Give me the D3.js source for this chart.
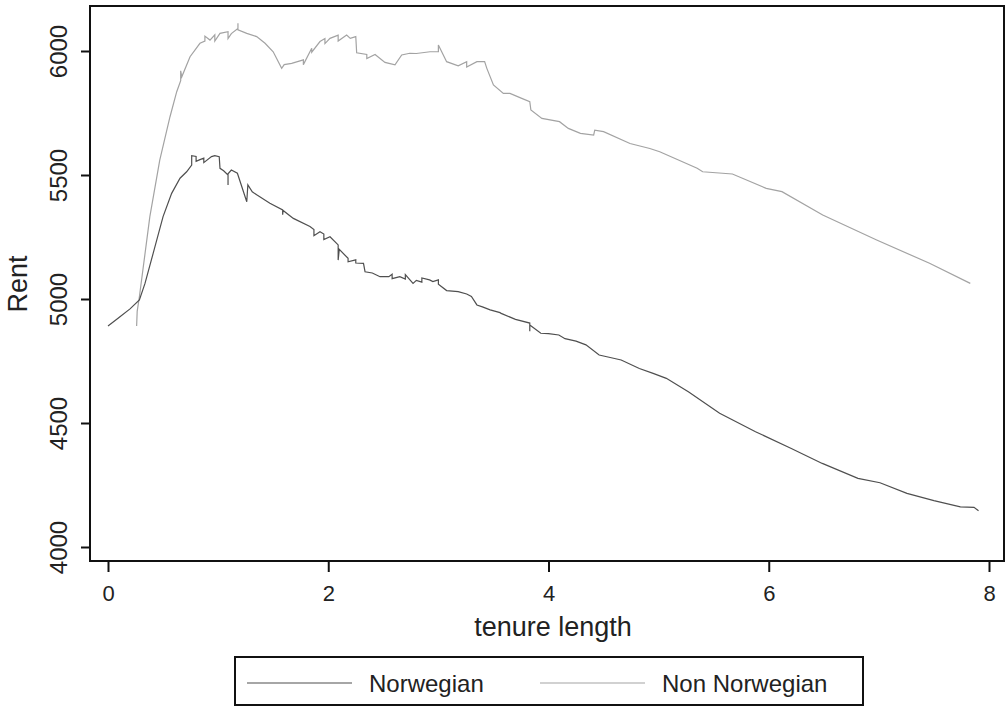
<!DOCTYPE html>
<html>
<head>
<meta charset="utf-8">
<script src="https://cdn.jsdelivr.net/npm/d3@7"></script>
<style>
  body { margin: 0; background: #fff; }
  text { font-family: "Liberation Sans", Arial, sans-serif; fill: #222; }
</style>
</head>
<body>
<svg id="chart" width="1007" height="707"></svg>
<script>
// series
let norTenure = [0.00,0.10,0.20,0.285,0.336,0.41,0.50,0.578,0.654,0.714,0.76,0.76,0.80,0.80,0.835,0.87,0.87,0.94,0.97,1.01,1.017,1.05,1.09,1.09,1.09,1.12,1.175,1.26,1.27,1.31,1.35,1.47,1.586,1.586,1.59,1.683,1.834,1.87,1.87,1.925,1.96,1.96,2.016,2.09,2.09,2.10,2.18,2.18,2.25,2.25,2.32,2.334,2.40,2.47,2.55,2.58,2.58,2.65,2.70,2.70,2.77,2.80,2.85,2.85,2.92,2.95,3.0,3.0,3.075,3.18,3.257,3.30,3.35,3.40,3.47,3.56,3.57,3.70,3.83,3.83,3.83,3.93,4.00,4.094,4.15,4.25,4.34,4.46,4.55,4.66,4.825,4.95,5.07,5.27,5.554,5.88,6.2,6.486,6.81,7.01,7.255,7.5,7.74,7.864,7.905]
let norRent   = [4891,4925,4960,4996,5063,5184,5332,5426,5487,5513,5540,5578,5575,5555,5562,5568,5550,5574,5578,5574,5527,5517,5500,5460,5505,5520,5507,5392,5460,5432,5420,5386,5359,5340,5357,5325,5292,5280,5255,5271,5262,5240,5251,5218,5157,5200,5164,5150,5158,5145,5144,5110,5105,5090,5090,5100,5082,5090,5080,5098,5063,5075,5068,5085,5077,5070,5077,5060,5034,5030,5020,5010,4976,4968,4956,4945,4942,4918,4903,4870,4895,4862,4860,4855,4840,4830,4815,4774,4765,4754,4720,4700,4680,4626,4539,4465,4398,4337,4277,4259,4216,4187,4162,4160,4146]

let nonTenure = [0.26,0.265,0.285,0.38,0.47,0.563,0.624,0.66,0.66,0.67,0.745,0.835,0.88,0.88,0.926,0.97,0.97,1.017,1.09,1.09,1.12,1.18,1.18,1.18,1.26,1.35,1.426,1.5,1.577,1.60,1.668,1.774,1.774,1.85,1.85,1.925,1.97,1.97,2.016,2.09,2.09,2.167,2.20,2.25,2.258,2.35,2.35,2.425,2.515,2.606,2.667,2.74,2.80,2.924,3.0,3.0,3.075,3.18,3.257,3.257,3.35,3.42,3.44,3.5,3.59,3.65,3.757,3.83,3.84,3.94,4.1,4.18,4.29,4.41,4.42,4.5,4.74,4.92,5.01,5.35,5.4,5.67,5.977,6.12,6.49,6.98,7.46,7.83]
let nonRent   = [4891,4950,5009,5332,5560,5735,5836,5880,5920,5896,5977,6031,6040,6060,6044,6065,6040,6071,6078,6050,6070,6091,6112,6085,6071,6058,6031,5997,5930,5945,5950,5964,5945,6011,5995,6038,6050,6030,6051,6064,6040,6064,6051,6058,5993,5986,5970,5986,5954,5944,5984,5991,5990,5997,5997,6024,5957,5940,5957,5935,5957,5957,5930,5863,5829,5829,5809,5796,5762,5728,5715,5688,5668,5661,5681,5675,5627,5607,5594,5527,5513,5504,5446,5433,5339,5238,5144,5063]

let xTicks = [0, 2, 4, 6, 8]
let yTicks = [4000, 4500, 5000, 5500, 6000]
let seriesNames = ["Norwegian", "Non Norwegian"]
let seriesColors = ["#4f4f4f", "#a3a3a3"]

let svg = d3.select("#chart")

let x = d3.scaleLinear().domain([0, 8]).range([108, 989])
let y = d3.scaleLinear().domain([4000, 6000]).range([547, 51])

// plot frame
svg.append("rect")
  .attr("x", 90).attr("y", 6)
  .attr("width", 914).attr("height", 555)
  .attr("fill", "none")
  .attr("stroke", "#111")
  .attr("stroke-width", 2)

let yAxis = svg.append("g")
  .attr("transform", "translate(90,0)")
  .call(d3.axisLeft(y).tickValues(yTicks).tickSize(9).tickFormat(d3.format("d")))
yAxis.select(".domain").remove()
yAxis.selectAll(".tick line").attr("stroke", "#111").attr("stroke-width", 2)
yAxis.selectAll(".tick text")
  .attr("x", 0).attr("y", 0).attr("dy", 0)
  .attr("transform", "translate(-23,0) rotate(-90)")
  .attr("text-anchor", "middle")
  .style("font-size", "24px")
  .style("font-family", "Liberation Sans, Arial, sans-serif")
  .attr("fill", "#222")

let xAxis = svg.append("g")
  .attr("transform", "translate(0,561)")
  .call(d3.axisBottom(x).tickValues(xTicks).tickSize(11).tickFormat(d3.format("d")))
xAxis.select(".domain").remove()
xAxis.selectAll(".tick line").attr("stroke", "#111").attr("stroke-width", 2)
xAxis.selectAll(".tick text")
  .attr("y", 40).attr("dy", 0)
  .style("font-size", "22px")
  .style("font-family", "Liberation Sans, Arial, sans-serif")
  .attr("fill", "#222")

// axis titles
svg.append("text")
  .attr("x", 553).attr("y", 636)
  .attr("text-anchor", "middle")
  .style("font-size", "27px")
  .text("tenure length")

svg.append("text")
  .attr("transform", "translate(27,284) rotate(-90)")
  .attr("text-anchor", "middle")
  .style("font-size", "27px")
  .text("Rent")

// lines
let line = d3.line()
  .x(function(d){ return x(d[0]) })
  .y(function(d){ return y(d[1]) })

let nonData = nonTenure.map(function(t, i){ return [t, nonRent[i]] })
let norData = norTenure.map(function(t, i){ return [t, norRent[i]] })

svg.append("path")
  .datum(nonData)
  .attr("d", line)
  .attr("fill", "none")
  .attr("stroke", seriesColors[1])
  .attr("stroke-width", 1.2)

svg.append("path")
  .datum(norData)
  .attr("d", line)
  .attr("fill", "none")
  .attr("stroke", seriesColors[0])
  .attr("stroke-width", 1.2)

// legend
let legend = svg.append("g")
legend.append("rect")
  .attr("x", 235).attr("y", 657)
  .attr("width", 628).attr("height", 48)
  .attr("fill", "#fff")
  .attr("stroke", "#111")
  .attr("stroke-width", 2)

let legX = [247, 540]
legend.selectAll("line.key")
  .data(seriesNames).enter()
  .append("line")
    .attr("class", "key")
    .attr("x1", function(d, i){ return legX[i] })
    .attr("x2", function(d, i){ return legX[i] + 105 })
    .attr("y1", 683).attr("y2", 683)
    .attr("stroke", function(d, i){ return seriesColors[i] })
    .attr("stroke-width", 1.2)

legend.selectAll("text.key")
  .data(seriesNames).enter()
  .append("text")
    .attr("class", "key")
    .attr("x", function(d, i){ return legX[i] + 122 })
    .attr("y", 692)
    .style("font-size", "24px")
    .attr("fill", "#333")
    .text(function(d){ return d })
</script>
</body>
</html>
